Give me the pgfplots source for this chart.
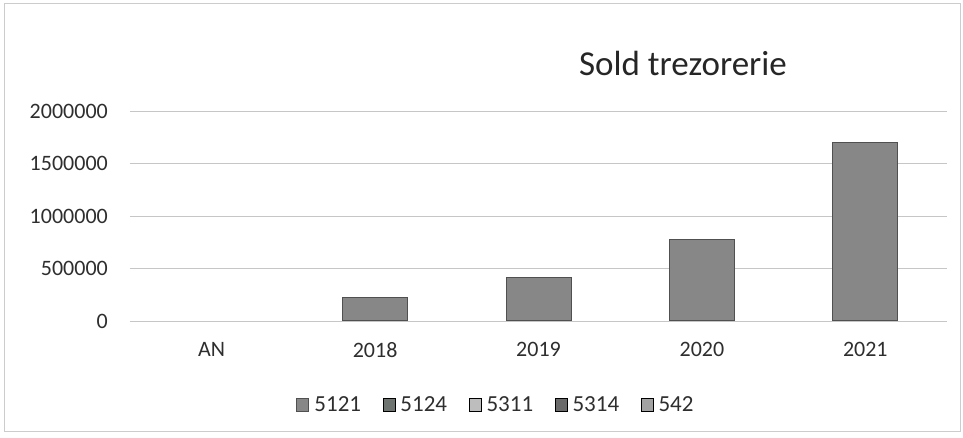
\documentclass[border=0pt]{standalone}
\usepackage{fontspec}
\setmainfont{Carlito}
\usepackage{pgfplots}
\pgfplotsset{compat=1.18}
\definecolor{barfill}{HTML}{878787}
\definecolor{barborder}{HTML}{505050}
\definecolor{cA}{HTML}{878787}
\definecolor{cB}{HTML}{6E746F}
\definecolor{cC}{HTML}{BDBDBD}
\definecolor{cD}{HTML}{6A6A6A}
\definecolor{cE}{HTML}{A2A2A2}
\definecolor{txt}{HTML}{2E2E2E}
\begin{document}
\begin{tikzpicture}
\begin{axis}[
  width=817pt, height=210pt, scale only axis,
  xmin=-0.5, xmax=4.5, ymin=0, ymax=2000000,
  xtick={0,1,2,3,4}, xticklabels={AN,2018,2019,2020,2021},
  ytick={0,500000,1000000,1500000,2000000},
  scaled y ticks=false,
  yticklabel={\pgfmathprintnumber[fixed,precision=0,1000 sep={}]{\tick}},
  /pgf/number format/assume math mode=true,
  axis line style={draw=none},
  tick style={draw=none},
  ymajorgrids, grid style={gray!45, line width=0.8pt},
  tick label style={font=\fontsize{22}{26}\selectfont, text=txt, inner sep=0pt},
  yticklabel shift=22pt,
  xticklabel shift=21pt,
  legend style={at={(0.448,-0.4)}, anchor=center, draw=none, fill=none,
    font=\fontsize{23}{26}\selectfont, text=txt,
    nodes={inner sep=2.5pt},
    /tikz/every even column/.append style={column sep=19pt}},
  legend columns=5,
  legend image code/.code={\fill[#1] (0pt,-6.5pt) rectangle (12.5pt,6.5pt); \path (15pt,0pt);},
]
\addplot[ybar, bar width=65pt, fill=barfill, draw=barborder, line width=1pt] coordinates {
  (1,221000) (2,415000) (3,774000) (4,1700000)
};
\addlegendentry{5121}
\addlegendimage{fill=cB}
\addlegendentry{5124}
\addlegendimage{fill=cC}
\addlegendentry{5311}
\addlegendimage{fill=cD}
\addlegendentry{5314}
\addlegendimage{fill=cE}
\addlegendentry{542}
\coordinate (SW) at (rel axis cs:0,0);
\end{axis}
\pgfresetboundingbox
\begin{scope}[shift={(SW)}, x=1pt, y=1pt]
\path[use as bounding box] (-130,-117) rectangle (833,321);
\draw[gray!40, line width=1pt] (-125,-111) rectangle (830,317);
\node[text=black!85, font=\fontsize{35}{40}\selectfont] at (553,258) {Sold trezorerie};
\end{scope}
\end{tikzpicture}
\end{document}
